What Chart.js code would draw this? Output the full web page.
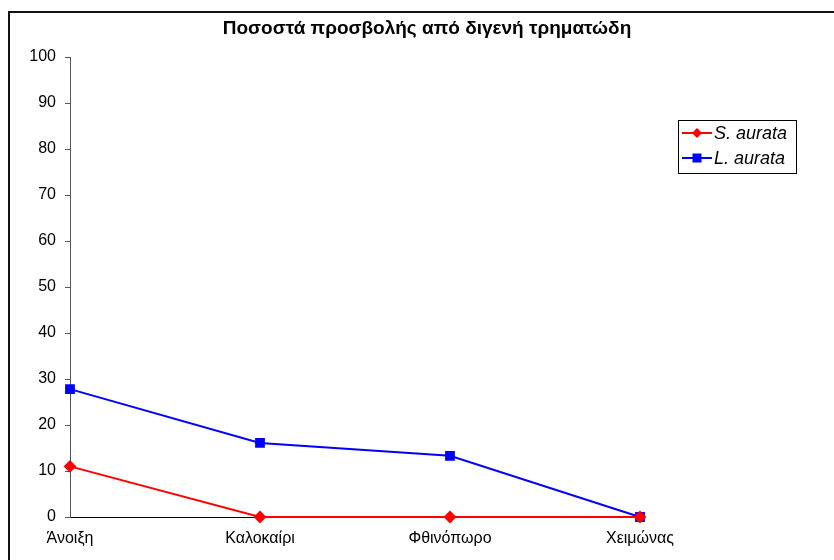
<!DOCTYPE html>
<html>
<head>
<meta charset="utf-8">
<script src="https://cdn.jsdelivr.net/npm/chart.js@4/dist/chart.umd.min.js"></script>
<style>
  body { margin: 0; background: #fff; }
  canvas { display: block; }
</style>
</head>
<body>
<canvas id="myChart" width="834" height="560"></canvas>
<script>
const chartTitle = 'Ποσοστά προσβολής από διγενή τρηματώδη';
const seasons = ['Άνοιξη', 'Καλοκαίρι', 'Φθινόπωρο', 'Χειμώνας'];
const sAurata = [11, 0, 0, 0];
const lAurata = [27.8, 16.1, 13.3, 0];
const yTicks = [0, 10, 20, 30, 40, 50, 60, 70, 80, 90, 100];

const font = '"Liberation Sans", Arial, sans-serif';

// frame, title and boxed legend like the spreadsheet original
const decor = {
    id: 'decor',
    beforeDraw(chart) {
        const c = chart.ctx;
        c.save();
        c.fillStyle = '#fff';
        c.fillRect(0, 0, chart.width, chart.height);
        c.strokeStyle = '#111';
        c.lineWidth = 2;
        c.strokeRect(9, 12, chart.width + 20, chart.height + 20);
        c.restore();
    },
    afterDraw(chart) {
        const c = chart.ctx;
        c.save();
        c.fillStyle = '#000';
        c.font = 'bold 19px ' + font;
        c.textAlign = 'center';
        c.textBaseline = 'middle';
        c.fillText(chartTitle, 427, 29);

        // legend
        const bx = 678, by = 120, bw = 118, bh = 53;
        c.lineWidth = 1;
        c.strokeStyle = '#000';
        c.strokeRect(bx + 0.5, by + 0.5, bw, bh);
        chart.data.datasets.forEach((ds, i) => {
            const y = by + 13 + i * 25;
            c.strokeStyle = ds.borderColor;
            c.lineWidth = 2;
            c.beginPath();
            c.moveTo(bx + 4, y);
            c.lineTo(bx + 34, y);
            c.stroke();
            c.fillStyle = ds.borderColor;
            const mx = bx + 19;
            if (ds.pointStyle === 'rectRot') {
                c.beginPath();
                c.moveTo(mx, y - 5);
                c.lineTo(mx + 5, y);
                c.lineTo(mx, y + 5);
                c.lineTo(mx - 5, y);
                c.closePath();
                c.fill();
            } else {
                c.fillRect(mx - 4.5, y - 4.5, 9, 9);
            }
            c.fillStyle = '#000';
            c.font = 'italic 18px ' + font;
            c.textAlign = 'left';
            c.fillText(ds.label, bx + 36, y + 1);
        });
        c.restore();
    }
};

const ctx = document.getElementById('myChart').getContext('2d');
const myChart = new Chart(ctx, {
    type: 'line',
    data: {
        labels: seasons,
        datasets: [{
            label: 'S. aurata',
            data: sAurata,
            borderColor: '#ff0000',
            backgroundColor: '#ff0000',
            borderWidth: 2,
            pointStyle: 'rectRot',
            pointRadius: 5,
            pointHoverRadius: 5,
            clip: false
        }, {
            label: 'L. aurata',
            data: lAurata,
            borderColor: '#0000ff',
            backgroundColor: '#0000ff',
            borderWidth: 2,
            pointStyle: 'rect',
            pointRadius: 5.5,
            pointHoverRadius: 5.5,
            clip: false
        }]
    },
    options: {
        responsive: false,
        animation: false,
        events: [],
        layout: {
            padding: { top: 57, right: 194, bottom: 0, left: 0 }
        },
        plugins: {
            legend: { display: false },
            title: { display: false },
            tooltip: { enabled: false }
        },
        scales: {
            x: {
                offset: false,
                grid: { display: false },
                border: { display: true, color: '#000', width: 1 },
                ticks: {
                    color: '#000',
                    font: { family: font, size: 16 },
                    padding: 4,
                    maxRotation: 0
                },
                afterFit(scale) { scale.height = 43; }
            },
            y: {
                min: 0,
                max: 100,
                afterBuildTicks(scale) {
                    scale.ticks = yTicks.map(v => ({ value: v }));
                },
                grid: {
                    drawOnChartArea: false,
                    drawTicks: true,
                    tickLength: 5,
                    color: '#555'
                },
                border: { display: true, color: '#555', width: 1 },
                ticks: {
                    color: '#000',
                    font: { family: font, size: 16 },
                    padding: 9
                },
                afterFit(scale) { scale.width = 70; }
            }
        }
    },
    plugins: [decor]
});
</script>
</body>
</html>
